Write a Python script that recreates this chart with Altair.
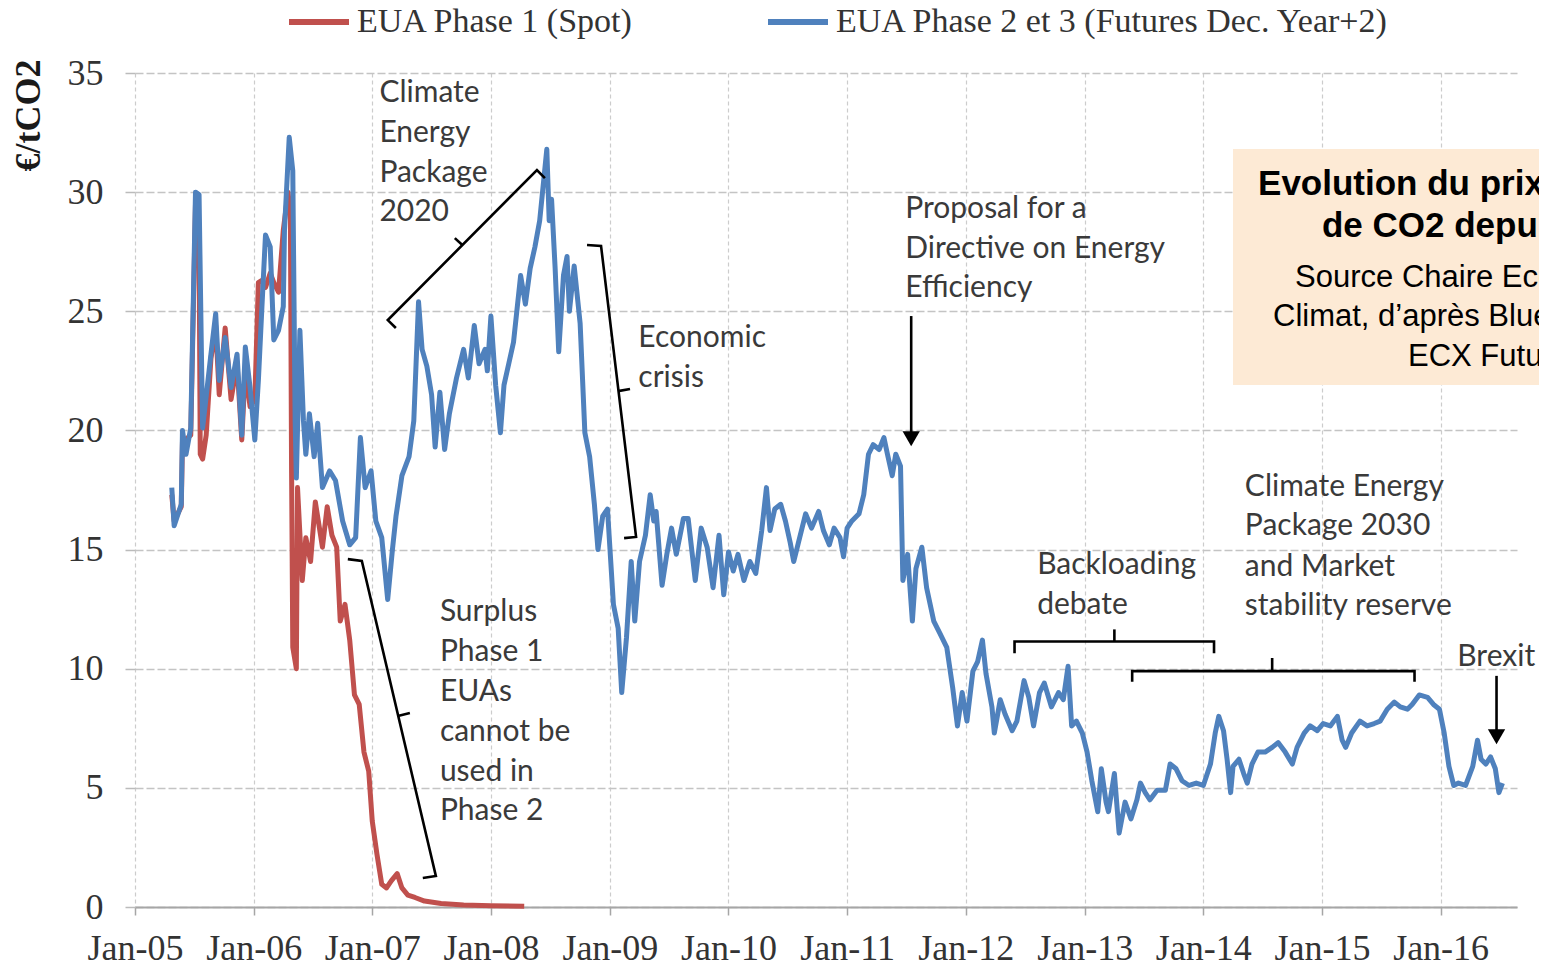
import altair as alt
import pandas as pd

# ---------------- data (decimal years, EUR/tCO2) ----------------
S1 = "EUA Phase 1 (Spot)"
S2 = "EUA Phase 2 et 3 (Futures Dec. Year+2)"

phase1_t = [2005.31, 2005.33, 2005.39, 2005.40, 2005.47, 2005.51, 2005.54, 2005.55, 2005.57, 2005.60,
            2005.64, 2005.68, 2005.71, 2005.76, 2005.81, 2005.86, 2005.90, 2005.93, 2005.97, 2006.01,
            2006.04, 2006.07, 2006.10, 2006.14, 2006.17, 2006.21, 2006.25, 2006.29, 2006.31, 2006.32,
            2006.33, 2006.36, 2006.37, 2006.41, 2006.44, 2006.48, 2006.52, 2006.58, 2006.62, 2006.66,
            2006.70, 2006.73, 2006.77, 2006.81, 2006.85, 2006.89, 2006.93, 2006.97, 2007.00, 2007.04,
            2007.08, 2007.12, 2007.16, 2007.21, 2007.25, 2007.30, 2007.36, 2007.44, 2007.58, 2007.77,
            2008.00, 2008.28]
phase1_v = [17.3, 16.2, 16.8, 19.5, 19.8, 29.5, 28.0, 19.0, 18.8, 19.8,
            23.0, 24.4, 21.5, 24.3, 21.3, 22.8, 19.6, 22.6, 21.0, 21.3,
            26.2, 26.3, 26.0, 26.6, 26.2, 25.8, 28.4, 30.0, 29.0, 18.2,
            10.9, 10.0, 17.6, 13.7, 15.5, 14.5, 17.0, 15.1, 16.8, 15.6,
            15.1, 12.0, 12.7, 11.2, 8.9, 8.5, 6.5, 5.7, 3.6, 2.2,
            0.95, 0.8, 1.1, 1.4, 0.8, 0.5, 0.4, 0.25, 0.15, 0.08,
            0.05, 0.03]

phase23_t = [2005.31, 2005.33, 2005.39, 2005.40, 2005.43, 2005.47, 2005.51, 2005.54, 2005.56, 2005.57,
             2005.64, 2005.68, 2005.71, 2005.76, 2005.81, 2005.86, 2005.90, 2005.93, 2005.97, 2006.01,
             2006.04, 2006.07, 2006.10, 2006.14, 2006.17, 2006.21, 2006.25, 2006.26, 2006.30, 2006.33,
             2006.35, 2006.36, 2006.39, 2006.42, 2006.44, 2006.47, 2006.51, 2006.54, 2006.58, 2006.64,
             2006.69, 2006.75, 2006.81, 2006.86, 2006.90, 2006.94, 2006.99, 2007.03, 2007.08, 2007.13,
             2007.17, 2007.20, 2007.25, 2007.31, 2007.35, 2007.39, 2007.42, 2007.46, 2007.50, 2007.53,
             2007.57, 2007.61, 2007.65, 2007.71, 2007.77, 2007.81, 2007.86, 2007.90, 2007.95, 2007.97,
             2008.00, 2008.04, 2008.08, 2008.11, 2008.15, 2008.19, 2008.25, 2008.29, 2008.33, 2008.37,
             2008.41, 2008.47, 2008.49, 2008.51, 2008.54, 2008.57, 2008.61, 2008.64, 2008.66, 2008.70,
             2008.75, 2008.79, 2008.83, 2008.87, 2008.90, 2008.94, 2008.98, 2009.03, 2009.07, 2009.10,
             2009.14, 2009.18, 2009.21, 2009.25, 2009.30, 2009.34, 2009.37, 2009.39, 2009.44, 2009.48,
             2009.52, 2009.56, 2009.62, 2009.66, 2009.72, 2009.77, 2009.82, 2009.87, 2009.92, 2009.96,
             2010.00, 2010.04, 2010.08, 2010.13, 2010.18, 2010.23, 2010.28, 2010.32, 2010.35, 2010.39,
             2010.44, 2010.48, 2010.52, 2010.55, 2010.59, 2010.65, 2010.70, 2010.76, 2010.80, 2010.85,
             2010.89, 2010.94, 2010.97, 2011.00, 2011.04, 2011.10, 2011.14, 2011.18, 2011.22, 2011.27,
             2011.31, 2011.34, 2011.38, 2011.41, 2011.45, 2011.47, 2011.51, 2011.55, 2011.58, 2011.63,
             2011.67, 2011.73, 2011.78, 2011.84, 2011.89, 2011.93, 2011.97, 2012.01, 2012.06, 2012.10,
             2012.14, 2012.17, 2012.22, 2012.24, 2012.29, 2012.33, 2012.39, 2012.43, 2012.49, 2012.53,
             2012.57, 2012.62, 2012.66, 2012.72, 2012.78, 2012.82, 2012.86, 2012.89, 2012.93, 2012.98,
             2013.02, 2013.06, 2013.11, 2013.14, 2013.18, 2013.20, 2013.25, 2013.29, 2013.34, 2013.39,
             2013.44, 2013.47, 2013.51, 2013.55, 2013.61, 2013.68, 2013.72, 2013.77, 2013.82, 2013.88,
             2013.94, 2014.00, 2014.06, 2014.10, 2014.13, 2014.17, 2014.20, 2014.23, 2014.25, 2014.30,
             2014.34, 2014.37, 2014.41, 2014.46, 2014.52, 2014.58, 2014.63, 2014.69, 2014.75, 2014.79,
             2014.85, 2014.90, 2014.96, 2015.01, 2015.07, 2015.13, 2015.17, 2015.20, 2015.25, 2015.32,
             2015.38, 2015.44, 2015.49, 2015.55, 2015.61, 2015.66, 2015.72, 2015.76, 2015.82, 2015.89,
             2015.94, 2015.99, 2016.03, 2016.07, 2016.11, 2016.15, 2016.21, 2016.27, 2016.31, 2016.34,
             2016.38, 2016.42, 2016.46, 2016.49, 2016.52]
phase23_v = [17.6, 16.0, 16.9, 20.0, 19.0, 20.1, 30.0, 29.9, 23.2, 20.1,
             23.2, 24.9, 22.1, 23.9, 21.8, 23.2, 19.8, 23.5, 21.8, 19.6,
             22.1, 25.2, 28.2, 27.7, 23.8, 24.2, 25.2, 28.4, 32.3, 30.9,
             20.4, 18.0, 24.2, 20.4, 19.0, 20.7, 18.9, 20.3, 17.6, 18.3,
             17.9, 16.2, 15.2, 15.5, 19.7, 17.6, 18.3, 16.2, 15.5, 12.9,
             15.0, 16.4, 18.1, 18.9, 20.4, 25.4, 23.4, 22.7, 21.5, 19.3,
             21.6, 19.2, 20.7, 22.2, 23.4, 22.2, 24.4, 22.8, 23.4, 22.5,
             24.8, 21.9, 19.9, 21.9, 22.8, 23.7, 26.5, 25.3, 26.8, 27.7,
             28.8, 31.8, 28.8, 29.7, 26.8, 23.3, 26.5, 27.3, 25.0, 26.9,
             24.5, 19.9, 18.9, 16.9, 15.0, 16.4, 16.7, 12.7, 11.7, 9.0,
             11.3, 14.5, 12.0, 14.5, 15.6, 17.3, 16.2, 16.6, 13.5, 14.8,
             15.9, 14.8, 16.3, 16.3, 13.7, 15.9, 15.1, 13.4, 15.6, 13.1,
             14.9, 14.1, 14.8, 13.7, 14.5, 14.0, 15.8, 17.6, 15.8, 16.7,
             16.9, 16.2, 15.3, 14.5, 15.3, 16.5, 15.9, 16.6, 15.8, 15.2,
             15.9, 15.5, 14.7, 15.9, 16.2, 16.5, 17.3, 19.0, 19.4, 19.2,
             19.7, 19.0, 18.1, 19.0, 18.5, 13.7, 14.8, 12.0, 14.2, 15.1,
             13.4, 12.0, 11.5, 10.9, 9.2, 7.6, 9.0, 7.8, 9.9, 10.3,
             11.2, 9.8, 8.4, 7.3, 8.7, 8.1, 7.4, 7.8, 9.5, 8.8,
             7.6, 9.0, 9.4, 8.4, 9.0, 8.7, 10.1, 7.6, 7.8, 7.3,
             6.5, 5.3, 4.0, 5.8, 4.4, 4.0, 5.6, 3.1, 4.4, 3.7,
             4.5, 5.2, 4.8, 4.5, 4.9, 4.9, 6.0, 5.8, 5.3, 5.1,
             5.2, 5.1, 6.0, 7.3, 8.0, 7.4, 6.2, 4.8, 5.9, 6.2,
             5.6, 5.2, 6.0, 6.5, 6.5, 6.7, 6.9, 6.5, 6.0, 6.7,
             7.3, 7.6, 7.4, 7.7, 7.6, 8.0, 7.0, 6.7, 7.3, 7.8,
             7.6, 7.7, 7.8, 8.3, 8.6, 8.4, 8.3, 8.5, 8.9, 8.8,
             8.5, 8.3, 7.3, 5.9, 5.1, 5.2, 5.1, 5.9, 7.0, 6.2,
             6.0, 6.3, 5.8, 4.8, 5.2]

# annotation brackets / arrows (path id, decimal year, value)
path_id = ["cep2020"] * 4 + ["cep2020_t"] * 2 + ["crisis"] * 4 + ["crisis_t"] * 2 + \
          ["surplus"] * 4 + ["surplus_t"] * 2 + ["backl"] * 4 + ["backl_t"] * 2 + \
          ["cep2030"] * 4 + ["cep2030_t"] * 2 + ["arrow_eed"] * 2 + ["arrow_brexit"] * 2
path_t = [2007.199, 2007.131, 2008.387, 2008.454, 2007.759, 2007.696,
          2008.808, 2008.926, 2009.221, 2009.120, 2009.069, 2009.170,
          2006.794, 2006.912, 2007.536, 2007.426, 2007.216, 2007.317,
          2012.41, 2012.41, 2014.09, 2014.09, 2013.25, 2013.25,
          2013.40, 2013.40, 2015.78, 2015.78, 2014.58, 2014.58,
          2011.54, 2011.54, 2016.47, 2016.47]
path_v = [24.30, 24.63, 30.93, 30.59, 27.78, 28.07,
          27.78, 27.74, 15.53, 15.48, 21.65, 21.74,
          14.60, 14.52, 1.30, 1.22, 8.02, 8.14,
          10.65, 11.14, 11.14, 10.65, 11.14, 11.65,
          9.45, 9.90, 9.90, 9.45, 9.90, 10.45,
          24.80, 19.90, 9.70, 7.40]

head_t = [2011.54, 2016.47]
head_v = [19.65, 7.15]

text_lines = ["Climate", "Energy", "Package", "2020",
              "Economic", "crisis",
              "Surplus", "Phase 1", "EUAs", "cannot be", "used in", "Phase 2",
              "Proposal for a", "Directive on Energy", "Efficiency",
              "Backloading", "debate",
              "Climate Energy", "Package 2030", "and Market", "stability reserve",
              "Brexit"]
text_t = [2007.06] * 4 + [2009.24] * 2 + [2007.57] * 6 + [2011.49] * 3 + [2012.60] * 2 + \
         [2014.35] * 4 + [2016.14]
text_v = [34.16, 32.48, 30.80, 29.16,
          23.88, 22.20,
          12.38, 10.70, 9.02, 7.34, 5.67, 4.03,
          29.29, 27.61, 25.98,
          14.35, 12.67,
          17.62, 15.99, 14.27, 12.63,
          10.49]

box_t, box_t2 = [2014.25], [2017.2]
box_v, box_v2 = [31.81], [21.91]
box_lines = ["Evolution du prix de la tonne", "de CO2 depuis 2005",
             "Source Chaire Economie du", "Climat, d\u2019apr\u00e8s BlueNext et", "ECX Futures"]
box_line_t = [2014.461, 2015.000, 2014.773, 2014.587, 2015.725]
box_line_v = [30.34, 28.58, 26.40, 24.76, 23.08]
box_bold = ["bold", "bold", "normal", "normal", "normal"]

year_ticks = list(range(2005, 2017))
y_ticks = [0, 5, 10, 15, 20, 25, 30, 35]


# ---------------- helpers ----------------
def to_ts(t):
    y = int(t)
    start = pd.Timestamp(year=y, month=1, day=1)
    days = 366 if y % 4 == 0 else 365
    return (start + pd.Timedelta(days=(t - y) * days)).strftime("%Y-%m-%dT%H:%M:%S")


series_df = pd.concat([
    pd.DataFrame({"date": [to_ts(t) for t in phase1_t], "value": phase1_v, "series": S1}),
    pd.DataFrame({"date": [to_ts(t) for t in phase23_t], "value": phase23_v, "series": S2}),
])
path_df = pd.DataFrame({"pid": path_id, "date": [to_ts(t) for t in path_t], "value": path_v,
                        "seq": list(range(len(path_id)))})
head_df = pd.DataFrame({"date": [to_ts(t) for t in head_t], "value": head_v})
text_df = pd.DataFrame({"date": [to_ts(t) for t in text_t], "value": text_v, "label": text_lines})
box_df = pd.DataFrame({"date": [to_ts(t) for t in box_t], "date2": [to_ts(t) for t in box_t2],
                       "value": box_v, "value2": box_v2})
box_text_df = pd.DataFrame({"date": [to_ts(t) for t in box_line_t], "value": box_line_v,
                            "label": box_lines, "weight": box_bold})

SERIF = "Liberation Serif, Times New Roman, serif"
NOTE = "Lato, Open Sans, sans-serif"
SANS = "Liberation Sans, Arial, sans-serif"

x_enc = alt.X("date:T",
              scale=alt.Scale(domain=[alt.DateTime(year=2005, month=1, date=1),
                                      alt.DateTime(year=2016, month=8, date=23)]),
              axis=alt.Axis(values=[alt.DateTime(year=y, month=1, date=1) for y in year_ticks],
                            format="%b-%y", title=None, labelFont=SERIF, labelFontSize=36,
                            labelColor="#333333", tickSize=8, tickColor="#a6a6a6", tickWidth=1.5,
                            labelPadding=16, domainColor="#a6a6a6", domainWidth=2,
                            grid=True, gridDash=[4, 3], gridColor="#cccccc", gridWidth=1.2,
                            labelOverlap=False, labelFlush=False))
y_enc = alt.Y("value:Q",
              scale=alt.Scale(domain=[0, 35], nice=False, zero=False),
              axis=alt.Axis(values=y_ticks, title="\u20ac/tCO2", titleFont=SERIF, titleFontSize=36,
                            titleFontWeight="bold", titleColor="#1a1a1a", titleAngle=270,
                            titleX=-107, titleY=42, titleAlign="center", titleBaseline="middle",
                            labelFont=SERIF, labelFontSize=36, labelColor="#333333",
                            tickSize=10, tickColor="#bbbbbb", tickWidth=1.5, labelPadding=22,
                            domain=False, grid=True, gridDash=[8, 3], gridColor="#c4c4c4",
                            gridWidth=1.6))

color_enc = alt.Color("series:N",
                      scale=alt.Scale(domain=[S1, S2], range=["#C0504D", "#4F81BD"]),
                      legend=alt.Legend(orient="none", legendX=151, legendY=-84,
                                        direction="horizontal", title=None,
                                        symbolType="stroke", symbolSize=3600,
                                        symbolStrokeWidth=6, labelFont=SERIF,
                                        labelFontSize=34, labelColor="#333333",
                                        labelOffset=5, columnPadding=122, padding=0,
                                        labelLimit=0))

red = alt.Chart(series_df).transform_filter(alt.datum.series == S1).mark_line(
    strokeWidth=5, strokeJoin="round").encode(x=x_enc, y=y_enc, color=color_enc)
blue = alt.Chart(series_df).transform_filter(alt.datum.series == S2).mark_line(
    strokeWidth=5, strokeJoin="round").encode(x=x_enc, y=y_enc, color=color_enc)

paths = alt.Chart(path_df).mark_line(color="black", strokeWidth=2.6).encode(
    x="date:T", y="value:Q", detail="pid:N", order="seq:Q")
heads = alt.Chart(head_df).mark_point(shape="triangle-down", filled=True, color="black",
                                      size=300, opacity=1).encode(x="date:T", y="value:Q")
texts = alt.Chart(text_df).mark_text(align="left", baseline="middle", font=NOTE,
                                     fontSize=30, color="#3a3a3a").encode(
    x="date:T", y="value:Q", text="label:N")

box = alt.Chart(box_df).mark_rect(color="#FDEAD5").encode(
    x="date:T", x2="date2:T", y="value:Q", y2="value2:Q")
box_bold_txt = alt.Chart(box_text_df).transform_filter(alt.datum.weight == "bold").mark_text(
    align="left", baseline="middle", font=SANS, fontSize=35, fontWeight="bold",
    color="#000000").encode(x="date:T", y="value:Q", text="label:N")
box_reg_txt = alt.Chart(box_text_df).transform_filter(alt.datum.weight == "normal").mark_text(
    align="left", baseline="middle", font=SANS, fontSize=31, color="#000000").encode(
    x="date:T", y="value:Q", text="label:N")

chart = alt.layer(red, blue, paths, heads, texts, box, box_bold_txt, box_reg_txt).properties(
    width=1382, height=834,
    padding={"left": 127, "top": 65, "right": 22, "bottom": 66},
    autosize=alt.AutoSizeParams(type="none"),
    background="white",
).configure_view(stroke=None)

chart.save("out.html", embed_options={"renderer": "svg", "actions": False})
